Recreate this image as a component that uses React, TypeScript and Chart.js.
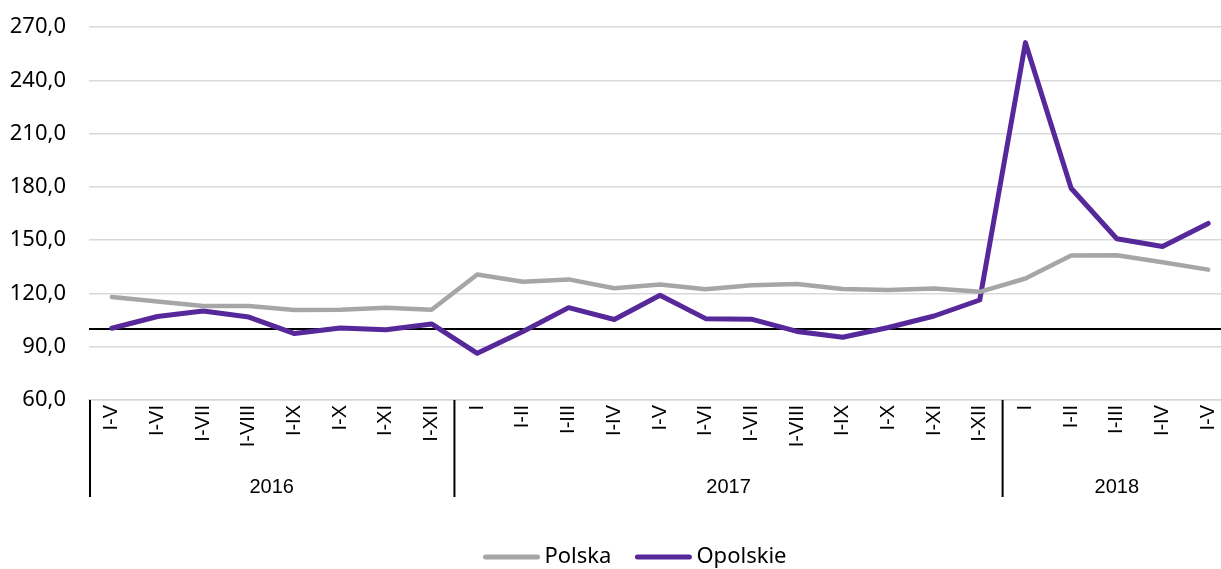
import { useEffect, useRef } from 'react';
import { Chart, registerables } from 'chart.js';

Chart.register(...registerables);

const categories = [
  'I-V', 'I-VI', 'I-VII', 'I-VIII', 'I-IX', 'I-X', 'I-XI', 'I-XII',
  'I', 'I-II', 'I-III', 'I-IV', 'I-V', 'I-VI', 'I-VII', 'I-VIII', 'I-IX', 'I-X', 'I-XI', 'I-XII',
  'I', 'I-II', 'I-III', 'I-IV', 'I-V',
];
const years = ['2016', '2017', '2018'];
const yearSizes = [8, 12, 5];

const polska = [
  118.0, 115.4, 112.9, 112.9, 110.7, 110.8, 112.0, 110.8,
  130.7, 126.6, 127.9, 122.9, 125.0, 122.4, 124.6, 125.3, 122.5, 121.9, 122.8, 120.9,
  128.4, 141.3, 141.5, 137.6, 133.4,
];
const opolskie = [
  100.4, 107.0, 110.1, 106.7, 97.4, 100.5, 99.6, 102.8,
  86.3, 98.6, 112.0, 105.3, 119.0, 105.8, 105.5, 98.6, 95.3, 100.8, 107.3, 116.3,
  261.2, 179.2, 150.8, 146.4, 159.4,
];

const yMin = 60;
const yMax = 270;
const yStep = 30;
const referenceLevel = 100;

const LEGEND_FONT = '22px "Noto Sans", sans-serif';
const TRANSPARENT = 'rgba(0,0,0,0)';
const VIEW_WIDTH = 1221;
const CANVAS_WIDTH = 1231;
const HEIGHT = 569;

const groupPlugin = {
  id: 'groupsAndReference',
  beforeDatasetsDraw(chart: any) {
    const { ctx, chartArea, scales } = chart;
    const py = scales.y.getPixelForValue(referenceLevel);
    ctx.save();
    ctx.strokeStyle = '#000000';
    ctx.lineWidth = 2;
    ctx.beginPath();
    ctx.moveTo(chartArea.left, py);
    ctx.lineTo(chartArea.right, py);
    ctx.stroke();
    ctx.restore();
  },
  afterDraw(chart: any) {
    const { ctx, chartArea, scales } = chart;
    const x = scales.x;
    const top = chartArea.bottom;
    const bottom = top + 97;
    ctx.save();
    ctx.strokeStyle = '#000000';
    ctx.lineWidth = 2;
    ctx.fillStyle = '#000000';
    ctx.font = '20px "Liberation Sans", Arial, sans-serif';
    ctx.textAlign = 'center';
    ctx.textBaseline = 'middle';
    let start = 0;
    years.forEach((yr, i) => {
      const end = start + yearSizes[i];
      const left = start === 0
        ? x.left
        : (x.getPixelForValue(start - 1) + x.getPixelForValue(start)) / 2;
      const right = end >= categories.length
        ? x.right
        : (x.getPixelForValue(end - 1) + x.getPixelForValue(end)) / 2;
      const lx = left + (start === 0 ? 1 : 0);
      ctx.beginPath();
      ctx.moveTo(lx, top);
      ctx.lineTo(lx, bottom);
      ctx.stroke();
      ctx.fillText(yr, (left + right) / 2, top + 87);
      start = end;
    });

    // legend
    const datasets = chart.data.datasets;
    const lineLen = 56;
    const gapText = 5;
    const gapItem = 24;
    ctx.font = LEGEND_FONT;
    ctx.textAlign = 'left';
    const widths = datasets.map((ds: any) => lineLen + gapText + ctx.measureText(ds.label).width);
    const total = widths.reduce((a: number, b: number) => a + b, 0) + gapItem * (datasets.length - 1);
    const cx = (chartArea.left + VIEW_WIDTH) / 2 - 20;
    let lxp = cx - total / 2;
    const ly = 557;
    datasets.forEach((ds: any, i: number) => {
      ctx.strokeStyle = ds.borderColor;
      ctx.lineWidth = 5;
      ctx.lineCap = 'round';
      ctx.beginPath();
      ctx.moveTo(lxp + 2, ly);
      ctx.lineTo(lxp + lineLen - 2, ly);
      ctx.stroke();
      ctx.fillStyle = '#000000';
      ctx.fillText(ds.label, lxp + lineLen + gapText, ly);
      lxp += widths[i] + gapItem;
    });
    ctx.restore();
  },
};

export default function App() {
  const canvasRef = useRef<HTMLCanvasElement | null>(null);

  useEffect(() => {
    if (!canvasRef.current) return;
    const chart = new Chart(canvasRef.current, {
      type: 'line',
      data: {
        labels: categories,
        datasets: [
          {
            label: 'Polska',
            data: polska,
            borderColor: '#a6a6a6',
            backgroundColor: '#a6a6a6',
            borderWidth: 4.5,
            pointRadius: 0,
            pointHoverRadius: 0,
            tension: 0,
            borderCapStyle: 'round',
            borderJoinStyle: 'round',
          },
          {
            label: 'Opolskie',
            data: opolskie,
            borderColor: '#56289a',
            backgroundColor: '#56289a',
            borderWidth: 5,
            pointRadius: 0,
            pointHoverRadius: 0,
            tension: 0,
            borderCapStyle: 'round',
            borderJoinStyle: 'round',
          },
        ],
      },
      options: {
        responsive: false,
        animation: false,
        layout: { padding: { top: 27, right: 0, bottom: 33, left: 0 } },
        plugins: {
          tooltip: { enabled: false },
          legend: { display: false },
        },
        scales: {
          x: {
            type: 'category',
            offset: true,
            grid: {
              display: true,
              color: TRANSPARENT,
              drawOnChartArea: false,
              drawTicks: true,
              tickLength: 5,
              tickColor: TRANSPARENT,
            },
            border: { display: true, color: '#d9d9d9', width: 1.5 },
            ticks: {
              autoSkip: false,
              minRotation: 90,
              maxRotation: 90,
              padding: 0,
              color: '#000000',
              font: { family: '"Liberation Sans", Arial, sans-serif', size: 20, lineHeight: 1 },
            },
            afterFit: (scale: any) => {
              scale.height = 136;
            },
          },
          y: {
            min: yMin,
            max: yMax,
            grid: {
              color: '#d9d9d9',
              lineWidth: 1.5,
              drawTicks: true,
              tickLength: 23,
              tickColor: TRANSPARENT,
            },
            border: { display: false },
            ticks: {
              stepSize: yStep,
              padding: 0,
              color: '#000000',
              font: { family: '"Noto Sans", sans-serif', size: 22 },
              callback: (v: any) => Number(v).toFixed(1).replace('.', ','),
            },
            afterFit: (scale: any) => {
              scale.width = 89;
            },
          },
        },
      },
      plugins: [groupPlugin],
    });
    return () => chart.destroy();
  }, []);

  return (
    <div
      style={{
        position: 'absolute',
        left: 0,
        top: 0,
        width: VIEW_WIDTH,
        height: HEIGHT,
        overflow: 'hidden',
        background: '#ffffff',
      }}
    >
      <canvas ref={canvasRef} width={CANVAS_WIDTH} height={HEIGHT} style={{ display: 'block' }} />
    </div>
  );
}
